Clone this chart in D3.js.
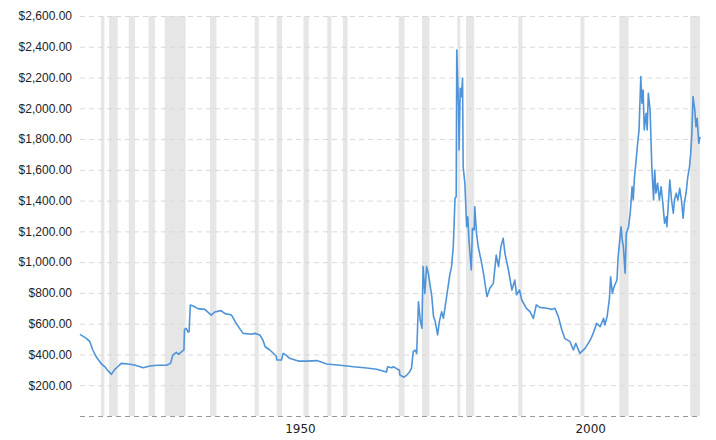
<!DOCTYPE html>
<html>
<head>
<meta charset="utf-8">
<script src="https://cdn.jsdelivr.net/npm/d3@7"></script>
<style>
  body { margin: 0; background: #fff; }
  svg { display: block; }
</style>
</head>
<body>
<div id="plotholder"></div>
<script>
// gold price, inflation adjusted
const YEARS = [
  1915.0, 1916.1, 1916.7, 1917.2, 1917.8, 1918.7, 1919.3, 1919.8, 1920.4, 1921.0,
  1921.5, 1922.1, 1923.3, 1924.4, 1925.9, 1927.0, 1928.4, 1929.9, 1930.6, 1931.0,
  1931.6, 1932.0, 1932.6, 1932.9, 1933.0, 1933.3, 1933.6, 1933.8, 1934.0, 1934.5,
  1935.3, 1936.5, 1937.6, 1938.2, 1939.3, 1939.9, 1941.1, 1941.9, 1942.6, 1943.1,
  1944.6, 1945.1, 1946.0, 1946.5, 1946.9, 1947.7, 1948.8, 1948.9, 1949.7, 1950.0,
  1950.5, 1951.1, 1952.6, 1954.1, 1955.8, 1957.5, 1959.8, 1962.1, 1964.4, 1966.1,
  1967.8, 1968.0, 1968.7, 1969.0, 1969.6, 1970.0, 1970.1, 1970.8, 1971.3, 1971.8,
  1972.1, 1972.4, 1972.7, 1973.0, 1973.3, 1973.6, 1973.9, 1974.1, 1974.4, 1974.7,
  1975.0, 1975.6, 1975.9, 1976.2, 1976.6, 1976.9, 1977.3, 1977.6, 1977.9, 1978.4,
  1978.7, 1979.0, 1979.3, 1979.6, 1979.8, 1979.9, 1980.2, 1980.3, 1980.5, 1980.7,
  1980.9, 1981.0, 1981.3, 1981.6, 1981.8, 1982.0, 1982.4, 1982.6, 1982.9, 1983.0,
  1983.3, 1983.6, 1983.9, 1984.2, 1984.6, 1985.1, 1985.6, 1986.2, 1986.7, 1987.1,
  1987.5, 1987.9, 1988.2, 1988.8, 1989.4, 1989.9, 1990.2, 1990.7, 1991.1, 1991.9,
  1992.5, 1993.1, 1993.6, 1994.2, 1995.4, 1996.3, 1996.8, 1997.4, 1998.0, 1998.5,
  1999.4, 2000.0, 2000.4, 2001.1, 2002.0, 2002.9, 2003.4, 2004.0, 2004.6, 2005.2,
  2005.4, 2005.8, 2006.2, 2006.4, 2006.7, 2007.0, 2007.5, 2007.7, 2008.2, 2008.4,
  2008.6, 2008.9, 2009.1, 2009.5, 2009.8, 2010.1, 2010.3, 2010.5, 2010.8, 2011.0,
  2011.3, 2011.6, 2011.8, 2012.0, 2012.2, 2012.5, 2012.7, 2012.9, 2013.2, 2013.5,
  2013.8, 2014.0, 2014.2, 2014.5, 2014.8, 2015.1, 2015.4, 2015.7, 2016.0, 2016.1,
  2016.6, 2016.9, 2017.2, 2017.4, 2017.7, 2018.0, 2018.3, 2018.6, 2018.9, 2019.1,
  2019.4, 2019.7, 2020.0, 2020.2, 2020.4, 2020.6, 2020.9, 2021.1, 2021.3, 2021.6,
  2021.8
]

const PRICES = [
  531, 505, 483, 429, 385, 338, 320, 295, 271, 303,
  320, 342, 338, 331, 314, 325, 330, 330, 342, 396,
  414, 401, 422, 429, 563, 570, 546, 548, 721, 715,
  698, 693, 656, 676, 685, 667, 656, 602, 563, 537,
  531, 537, 526, 494, 450, 429, 390, 364, 364, 407,
  396, 375, 357, 357, 360, 338, 330, 320, 312, 304,
  286, 320, 314, 320, 306, 299, 266, 252, 266, 288,
  310, 418, 429, 407, 743, 624, 570, 971, 797, 971,
  928, 776, 646, 613, 527, 613, 678, 635, 711, 840,
  917, 971, 1100, 1415, 1425, 2379, 2010, 1729, 2130, 2076,
  2195, 1621, 1512, 1230, 1295, 1144, 949, 1220, 1209, 1360,
  1187, 1100, 1045, 992, 905, 776, 830, 862, 1046, 971,
  1100, 1155, 1057, 949, 819, 884, 787, 819, 754, 700,
  678, 635, 722, 706, 700, 693, 700, 646, 559, 505,
  483, 429, 473, 407, 440, 494, 537, 602, 581, 635,
  592, 646, 765, 905, 797, 840, 884, 1035, 1230, 1144,
  1100, 928, 1187, 1230, 1328, 1490, 1404, 1545, 1664, 1750,
  1859, 2206, 2033, 2119, 1859, 1967, 1859, 2098, 1989, 1621,
  1404, 1599, 1448, 1512, 1404, 1490, 1383, 1252, 1295, 1230,
  1534, 1404, 1318, 1404, 1448, 1404, 1480, 1404, 1285, 1383,
  1448, 1555, 1621, 1707, 1838, 2076, 1989, 1880, 1935, 1772,
  1815
]

// recessions (start, end) in decimal years
const RECESSION_START = [1918.6, 1920.0, 1923.4, 1926.8, 1929.6, 1937.4, 1945.1, 1948.9, 1953.5, 1957.6,
  1960.3, 1969.9, 1973.9, 1980.0, 1981.5, 1990.5, 2001.2, 2007.9, 2020.1]
const RECESSION_END = [1919.2, 1921.5, 1924.5, 1927.9, 1933.2, 1938.5, 1945.8, 1949.8, 1954.4, 1958.3,
  1961.1, 1970.9, 1975.2, 1980.5, 1982.9, 1991.2, 2001.9, 2009.5, 2021.8]

const YTICKS = [0, 200, 400, 600, 800, 1000, 1200, 1400, 1600, 1800, 2000, 2200, 2400, 2600]
const XTICKS = [1950, 2000]

const W = 716
const H = 440
const margin = { left: 80, right: 16, top: 16, bottom: 24 }

const createscales = () => {
  /* linear scales for years and prices */
  const xscale = d3.scaleLinear()
    .domain([1915, 2021.8])
    .range([margin.left, W - margin.right])
  const yscale = d3.scaleLinear()
    .domain([0, 2600])
    .range([H - margin.bottom, margin.top])
  return { xscale, yscale }
}

const svg = d3.select('#plotholder').append('svg')
  .attr('width', W)
  .attr('height', H)
  .style('font-family', '"DejaVu Sans", Verdana, sans-serif')

const { xscale, yscale } = createscales()

// recession shading
svg.append('g').selectAll('rect')
  .data(RECESSION_START)
  .enter()
  .append('rect')
  .attr('x', d => xscale(d))
  .attr('width', (d, i) => xscale(RECESSION_END[i]) - xscale(d))
  .attr('y', yscale(2600))
  .attr('height', yscale(0) - yscale(2600))
  .attr('fill', '#e6e6e6')

// y grid + labels
const yaxis = d3.axisLeft(yscale)
  .tickValues(YTICKS)
  .tickSize(-(W - margin.left - margin.right))
  .tickPadding(8)
  .tickFormat(d => d === 0 ? '' : '$' + d3.format(',.2f')(d))

const yg = svg.append('g')
  .attr('transform', `translate(${margin.left},0)`)
  .call(yaxis)
yg.select('.domain').remove()
yg.selectAll('.tick line')
  .attr('stroke', d => d === 0 ? '#999' : '#d9d9d9')
  .attr('stroke-dasharray', '5,4')
yg.selectAll('.tick text')
  .attr('x', -8)
  .attr('fill', '#222')
  .style('font-size', '12px')

// x labels, left aligned just after the date
const xg = svg.append('g')
xg.selectAll('text')
  .data(XTICKS)
  .enter()
  .append('text')
  .attr('x', d => xscale(d) + 2)
  .attr('y', H - 7)
  .attr('fill', '#222')
  .style('font-size', '12px')
  .text(d => d)

// price line
const line = d3.line()
  .x((d, i) => xscale(YEARS[i]))
  .y(d => yscale(d))

svg.append('path')
  .datum(PRICES)
  .attr('d', line)
  .attr('fill', 'none')
  .attr('stroke', '#4f94d8')
  .attr('stroke-width', 1.6)
  .attr('stroke-linejoin', 'round')
</script>
</body>
</html>
